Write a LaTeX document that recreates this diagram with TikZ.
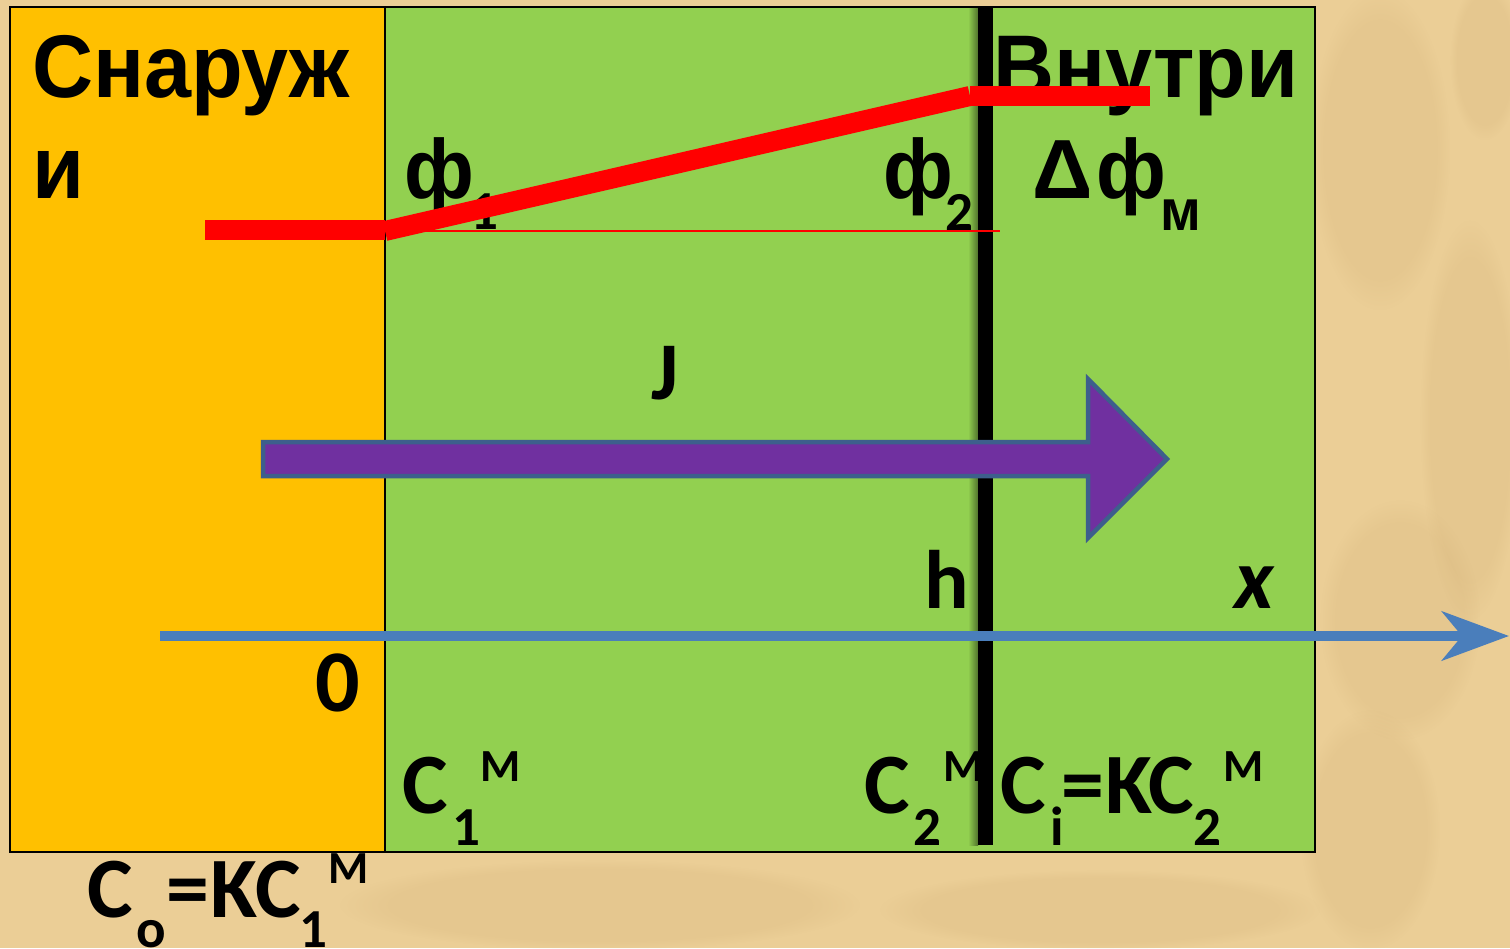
\documentclass[tikz,border=0pt]{standalone}
\usepackage{fontspec}
\usepackage{graphicx}
\setmainfont{Liberation Sans}
\newfontfamily\calfont{Carlito}
\usetikzlibrary{arrows.meta,fadings}
\definecolor{parch}{HTML}{EBCE96}
\definecolor{parchdark}{HTML}{D2B077}
\definecolor{parchlight}{HTML}{F5DDA8}
\definecolor{outside}{HTML}{FFC000}
\definecolor{membr}{HTML}{92D050}
\definecolor{potred}{HTML}{FF0000}
\definecolor{fluxfill}{HTML}{7030A0}
\definecolor{fluxedge}{HTML}{3D5F8C}
\definecolor{axisblue}{HTML}{4A7EBB}
\newcommand{\sqz}[1]{\scalebox{0.95}[1]{#1}}
\newcommand{\fs}[1]{\fontsize{#1}{#1}\selectfont}
\begin{document}
\begin{tikzpicture}[x=1pt,y=-1pt,
  lbl/.style={anchor=base west,inner sep=0pt,outer sep=0pt,text=black},
  arialbig/.style={lbl,font=\bfseries\fs{89}},
  calbig/.style={lbl,font=\calfont\bfseries\fs{86}},
  region/.style={draw=black,line width=1.5pt},
  potline/.style={draw=potred,line width=20pt,line cap=butt},
  blotch/.style={fill=parchdark,path fading=circle with fuzzy edge 20 percent,opacity=0.22}]
\useasboundingbox (0,0) rectangle (1510,948);
% parchment background
\fill[parch] (0,0) rectangle (1510,948);
\fill[blotch] (1380,150) ellipse (70pt and 160pt);
\fill[blotch] (1470,420) ellipse (50pt and 200pt);
\fill[blotch] (1400,620) ellipse (80pt and 120pt);
\fill[blotch] (1370,830) ellipse (70pt and 120pt);
\fill[blotch] (600,905) ellipse (260pt and 45pt);
\fill[blotch] (1100,910) ellipse (220pt and 40pt);
\fill[blotch] (1485,60) ellipse (35pt and 80pt);
% regions
\coordinate (tl) at (10,7);
\coordinate (mt) at (385,7);
\coordinate (mb) at (385,852);
\coordinate (br) at (1315,852);
\filldraw[region,fill=outside] (tl) rectangle (mb);
\filldraw[region,fill=membr] (mt) rectangle (br);
% membrane boundary with shadow
\shade[left color=membr,right color=membr!55!black] (968,8) rectangle (978,845);
\coordinate (mbtop) at (985,8);
\coordinate (mbbot) at (985,845);
\draw[line width=15pt,black] (mbtop) -- (mbbot);
% texts
\node[arialbig] (snar1) at (32,97) {\sqz{Снаруж}};
\node[arialbig] (snar2) at (32,198) {\sqz{и}};
\node[arialbig] (vnut) at (993,97) {\sqz{Внутри}};
\node[lbl,font=\bfseries\fs{84}] (phi1) at (404,198) {\makebox[66pt][l]{\sqz{ф}}\raisebox{-31pt}{\calfont\bfseries\fs{55}1}};
\node[lbl,font=\bfseries\fs{84}] (phi2) at (883,198) {\makebox[62pt][l]{\sqz{ф}}\raisebox{-32pt}{\calfont\bfseries\fs{55}2}};
\node[lbl,font=\bfseries\fs{84}] (dphi) at (1032,198) {\makebox[64pt][l]{Δ}\makebox[64pt][l]{\sqz{ф}}\raisebox{-32pt}{\fs{58}\sqz{м}}};
\node[calbig,font=\calfont\bfseries\fs{82}] (jlab) at (651,399) {J};
\node[calbig,font=\calfont\bfseries\fs{83}] (hlab) at (924,608) {h};
\node[calbig,font=\calfont\bfseries\itshape\fs{86}] (xlab) at (1234,608) {x};
\node[calbig,font=\calfont\bfseries\fs{88}] (zero) at (315,711) {0};
\node[calbig] (c1m) at (402,813) {\makebox[50pt][l]{C}\raisebox{-32pt}{\makebox[28pt][l]{\fs{55}1}}\raisebox{32pt}{\fs{46}М}};
\node[calbig] (c2m) at (864,813) {\makebox[49pt][l]{C}\raisebox{-32pt}{\makebox[30pt][l]{\fs{55}2}}\raisebox{32pt}{\fs{46}М}};
\node[calbig] (cim) at (1000,813) {\makebox[50pt][l]{C}\raisebox{-32pt}{\makebox[11pt][l]{\fs{55}i}}\makebox[45pt][l]{=}\makebox[42pt][l]{K}\makebox[45pt][l]{C}\raisebox{-32pt}{\makebox[30pt][l]{\fs{55}2}}\raisebox{32pt}{\fs{46}М}};
\node[calbig] (com) at (87,917) {\makebox[49pt][l]{C}\raisebox{-30pt}{\makebox[30pt][l]{\fs{55}o}}\makebox[45pt][l]{=}\makebox[44pt][l]{K}\makebox[44pt][l]{C}\raisebox{-30pt}{\makebox[29pt][l]{\fs{55}1}}\raisebox{34pt}{\fs{46}М}};
% potential profile
\coordinate (p0) at (205,230);
\coordinate (p1) at (385,230);
\coordinate (p1s) at (385,231);
\coordinate (p2) at (970,96);
\coordinate (p3) at (1150,96);
\coordinate (ref) at (1000,231);
\draw[potred,line width=1.6pt] (p1s) -- (ref);
\draw[potline] (p0) -- (p1);
\draw[potline] (p1s) -- (p2);
\draw[potline] (p2) -- (p3);
% flux arrow J
\coordinate (ja) at (263,442);
\coordinate (jtip) at (1167,459);
\filldraw[fill=fluxfill,draw=fluxedge,line width=4.5pt,line join=miter]
  (ja) -- (1088,442) -- (1088,379) -- (jtip) -- (1088,538) -- (1088,476) -- (263,476) -- cycle;
% x axis
\coordinate (ax0) at (160,636);
\coordinate (ax1) at (1509,636);
\draw[axisblue,line width=10pt,-{Stealth[length=67pt,width=49pt,inset=20pt]}] (ax0) -- (ax1);
\end{tikzpicture}
\end{document}
